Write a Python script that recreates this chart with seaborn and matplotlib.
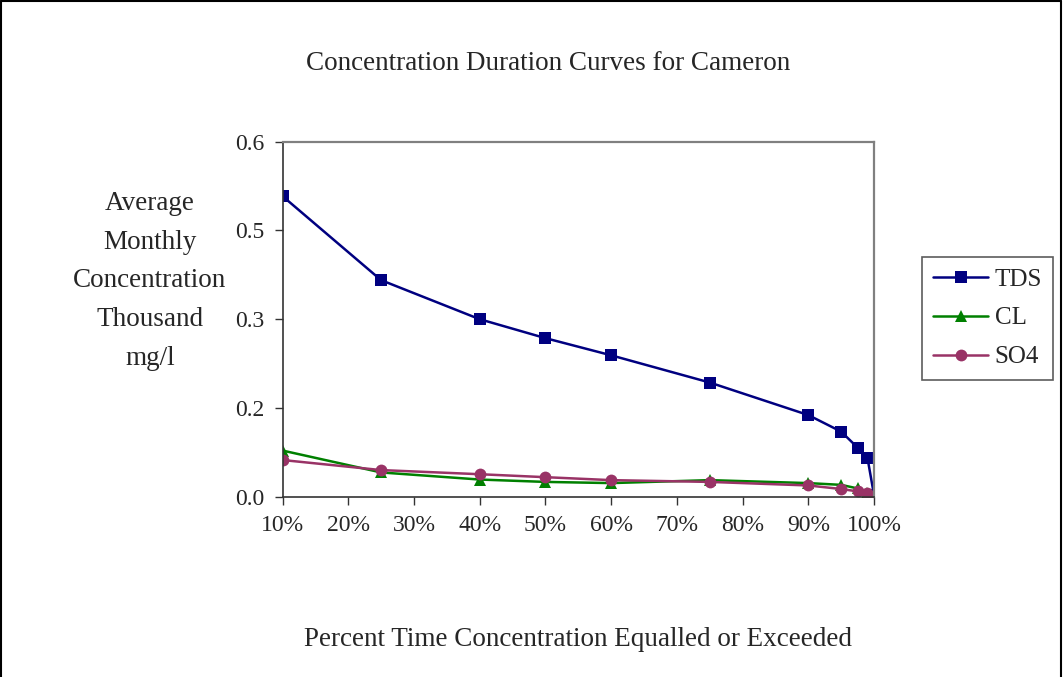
import matplotlib
matplotlib.use("Agg")
import matplotlib.pyplot as plt
import seaborn as sns
import pandas as pd
from matplotlib.lines import Line2D

sns.set_theme(style="white")
plt.rcParams['font.family'] = ['Liberation Serif', 'DejaVu Serif']

percent = [10, 25, 40, 50, 60, 75, 90, 95, 97.5, 99, 100]
tds = [0.508, 0.366, 0.300, 0.268, 0.239, 0.193, 0.138, 0.110, 0.083, 0.066, 0.003]
cl = [0.078, 0.041, 0.029, 0.025, 0.023, 0.028, 0.023, 0.020, 0.014, 0.007, 0.001]
so4 = [0.062, 0.045, 0.038, 0.033, 0.028, 0.025, 0.019, 0.013, 0.009, 0.006, 0.002]

x_ticks = [10, 20, 30, 40, 50, 60, 70, 80, 90, 100]
x_tick_labels = ["10%", "20%", "30%", "40%", "50%", "60%", "70%", "80%", "90%", "100%"]
y_ticks = [0.0, 0.15, 0.30, 0.45, 0.60]
y_tick_labels = ["0.0", "0.2", "0.3", "0.5", "0.6"]

series = [("TDS", tds, "#000080", "s"), ("CL", cl, "#008000", "^"), ("SO4", so4, "#993366", "o")]

df = pd.concat([pd.DataFrame({"pct": percent, "val": v, "series": n}) for n, v, c, m in series])

fig = plt.figure(figsize=(10.63, 6.77), dpi=100)
# chart-area border (left, top, right; bottom runs off the image)
for xs, ys in [([0.001, 0.001], [0, 0.999]), ([0.001, 0.998], [0.998, 0.998]), ([0.998, 0.998], [0, 0.999])]:
    fig.add_artist(Line2D(xs, ys, color="black", linewidth=1.5, transform=fig.transFigure))

ax = fig.add_axes([282.5 / 1063, 1 - 496.7 / 677, (874 - 282.5) / 1063, (496.7 - 141.7) / 677])

palette = {n: c for n, v, c, m in series}
markers = {n: m for n, v, c, m in series}
sns.lineplot(data=df, x="pct", y="val", hue="series", style="series", palette=palette,
             markers=markers, dashes=False, markersize=8.5, linewidth=1.8,
             markeredgewidth=0, ax=ax, legend=False, sort=False)

ax.set_xlim(10, 100)
ax.set_ylim(0, 0.6)
ax.set_xticks(x_ticks)
ax.set_xticklabels(x_tick_labels, fontsize=17)
ax.set_yticks(y_ticks)
ax.set_yticklabels(y_tick_labels, fontsize=17)
ax.tick_params(axis="both", direction="out", length=6, width=1, color="#333333", pad=7, left=True, bottom=True)
ax.set_xlabel("")
ax.set_ylabel("")
for s in ["top", "right"]:
    ax.spines[s].set_color("#808080")
    ax.spines[s].set_linewidth(1.6)
for s in ["left", "bottom"]:
    ax.spines[s].set_color("#333333")
    ax.spines[s].set_linewidth(1.2)

fig.text(548 / 1063, 1 - 64 / 677, "Concentration Duration Curves for Cameron", ha="center", va="center", fontsize=19.5)
fig.text(578 / 1063, 1 - 640 / 677, "Percent Time Concentration Equalled or Exceeded", ha="center", va="center", fontsize=19.5)
fig.text(150 / 1063, 1 - 281 / 677, "Average\nMonthly\nConcentration\nThousand\nmg/l", ha="center", va="center",
         fontsize=19.5, linespacing=1.72)

handles = [Line2D([0], [0], color=c, marker=m, markersize=8.5, markeredgewidth=0, linewidth=1.8, label=n)
           for n, v, c, m in series]
leg = fig.legend(handles=handles, loc="upper left", bbox_to_anchor=(922 / 1063, 1 - 257 / 677),
                 fontsize=18, frameon=True, fancybox=False, handlelength=2.2, borderpad=0.45,
                 labelspacing=0.65, handletextpad=0.25, borderaxespad=0)
leg.get_frame().set_edgecolor("#333333")
leg.get_frame().set_linewidth(1.2)

fig.savefig("out.png", dpi=100)
